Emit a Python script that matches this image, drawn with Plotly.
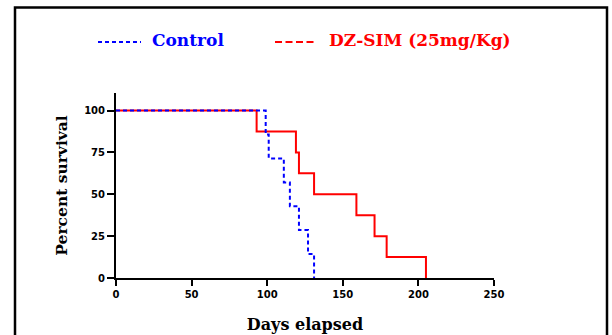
import plotly.graph_objects as go

# Survival data (days, percent survival)
control_days = [0, 99, 101, 111, 115, 121, 127, 131]
control_surv = [100, 85.7, 71.4, 57.1, 42.9, 28.6, 14.3, 0]
dzsim_days = [0, 93, 119, 121, 131, 159, 171, 179, 205]
dzsim_surv = [100, 87.5, 75, 62.5, 50, 37.5, 25, 12.5, 0]

x_ticks = [0, 50, 100, 150, 200, 250]
y_ticks = [0, 25, 50, 75, 100]

BLUE = "#0000FF"
RED = "#FF0000"
SERIF = "DejaVu Serif, serif"
SANS = "DejaVu Sans, sans-serif"

fig = go.Figure()
fig.add_trace(go.Scatter(x=dzsim_days, y=dzsim_surv, mode="lines", line_shape="hv",
                         line=dict(color=RED, width=2), cliponaxis=False,
                         name="DZ-SIM (25mg/Kg)", showlegend=False))
fig.add_trace(go.Scatter(x=control_days, y=control_surv, mode="lines", line_shape="hv",
                         line=dict(color=BLUE, width=2, dash="4px,3px"), cliponaxis=False,
                         name="Control", showlegend=False))

W, H = 612, 335
L, R, T, B = 116, 118, 93, 57
pw, ph = W - L - R, H - T - B

def px(x):
    return (x - L) / pw

def py(y):
    return (H - B - y) / ph

shapes = [
    # outer frame
    dict(type="rect", xref="paper", yref="paper", x0=px(15), x1=px(607), y0=py(360), y1=py(7.5),
         line=dict(color="black", width=2.5), fillcolor="rgba(0,0,0,0)"),
    # legend samples
    dict(type="line", xref="paper", yref="paper", x0=px(98), x1=px(141), y0=py(42), y1=py(42),
         line=dict(color=BLUE, width=2, dash="4px,3px")),
    dict(type="line", xref="paper", yref="paper", x0=px(275), x1=px(314), y0=py(42), y1=py(42),
         line=dict(color=RED, width=2, dash="7px,3.5px")),
]

annotations = [
    dict(text="<b>Control</b>", xref="paper", yref="paper", x=px(150), y=py(40),
         xanchor="left", yanchor="middle", showarrow=False,
         font=dict(family=SERIF, size=17, color=BLUE)),
    dict(text="<b>DZ-SIM (25mg/Kg)</b>", xref="paper", yref="paper", x=px(327), y=py(40),
         xanchor="left", yanchor="middle", showarrow=False,
         font=dict(family=SERIF, size=17, color=RED)),
]

fig.update_layout(
    width=W, height=H,
    margin=dict(l=L, r=R, t=T, b=B, pad=0, autoexpand=False),
    paper_bgcolor="white", plot_bgcolor="white",
    shapes=shapes, annotations=annotations,
    showlegend=False,
)
fig.update_xaxes(range=[0, 250], tickvals=x_ticks, ticktext=[str(v) for v in x_ticks],
                 automargin=False,
                 showline=True, linecolor="black", linewidth=2, showgrid=False, zeroline=False,
                 ticks="outside", ticklen=6, tickwidth=2, tickcolor="black",
                 tickfont=dict(family=SANS, size=10, color="black", weight="bold"),
                 title=dict(text="<b>Days elapsed</b>", standoff=20,
                            font=dict(family=SERIF, size=16, color="black")))
fig.update_yaxes(range=[0, 110.5], tickvals=y_ticks, ticktext=[str(v) for v in y_ticks],
                 automargin=False,
                 showline=True, linecolor="black", linewidth=2, showgrid=False, zeroline=False,
                 ticks="outside", ticklen=7, tickwidth=2, tickcolor="black",
                 tickfont=dict(family=SANS, size=10, color="black", weight="bold"),
                 title=dict(text="<b>Percent survival</b>", standoff=13,
                            font=dict(family=SERIF, size=15.5, color="black")))

fig.write_html("out.html", config={"displayModeBar": False},
               post_script="document.body.style.margin='0';")
